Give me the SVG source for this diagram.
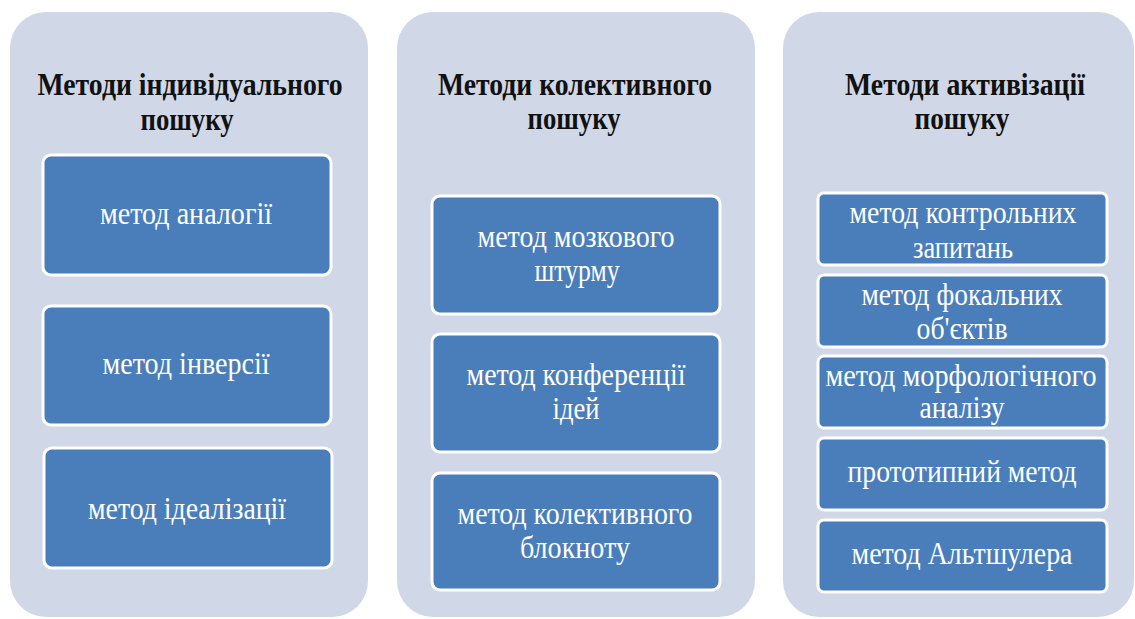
<svg xmlns="http://www.w3.org/2000/svg" width="1135" height="619" viewBox="0 0 1135 619">
<style>
.panel{fill:#D0D7E6;}
.box{fill:#4A7EBB;stroke:#FFFFFF;stroke-width:3;}
.title{font-family:"Liberation Serif",serif;font-weight:bold;font-size:32px;fill:#111;text-anchor:middle;}
.lbl{font-family:"Liberation Serif",serif;font-size:31px;fill:#FFFFFF;text-anchor:middle;}
</style>
<rect x="0" y="0" width="1135" height="619" fill="#FFFFFF"/>
<g id="col1">
<rect class="panel" x="10" y="12" width="358" height="605" rx="36"/>
<text class="title" x="190" y="95" textLength="305" lengthAdjust="spacingAndGlyphs">Методи індивідуального</text>
<text class="title" x="187" y="130" textLength="93" lengthAdjust="spacingAndGlyphs">пошуку</text>
</g>
<g id="col2">
<rect class="panel" x="397" y="12" width="358" height="605" rx="36"/>
<text class="title" x="575" y="95" textLength="274" lengthAdjust="spacingAndGlyphs">Методи колективного</text>
<text class="title" x="574" y="129" textLength="93" lengthAdjust="spacingAndGlyphs">пошуку</text>
</g>
<g id="col3">
<rect class="panel" x="783" y="12" width="351" height="605" rx="36"/>
<text class="title" x="965" y="95" textLength="240" lengthAdjust="spacingAndGlyphs">Методи активізації</text>
<text class="title" x="962" y="129" textLength="95" lengthAdjust="spacingAndGlyphs">пошуку</text>
</g>
<g id="n-analog">
<rect class="box" x="43" y="155" width="288" height="120" rx="8"/>
<text class="lbl" x="186" y="224" textLength="172" lengthAdjust="spacingAndGlyphs">метод аналогії</text>
</g>
<g id="n-inversion">
<rect class="box" x="43" y="306" width="288" height="119" rx="8"/>
<text class="lbl" x="186" y="374" textLength="167" lengthAdjust="spacingAndGlyphs">метод інверсії</text>
</g>
<g id="n-ideal">
<rect class="box" x="44" y="448" width="288" height="120" rx="8"/>
<text class="lbl" x="187" y="519" textLength="198" lengthAdjust="spacingAndGlyphs">метод ідеалізації</text>
</g>
<g id="n-brainstorm">
<rect class="box" x="432" y="196" width="288" height="118" rx="8"/>
<text class="lbl" x="576" y="247" textLength="197" lengthAdjust="spacingAndGlyphs">метод мозкового</text>
<text class="lbl" x="577" y="281" textLength="85" lengthAdjust="spacingAndGlyphs">штурму</text>
</g>
<g id="n-conference">
<rect class="box" x="432" y="334" width="288" height="118" rx="8"/>
<text class="lbl" x="576" y="385" textLength="219" lengthAdjust="spacingAndGlyphs">метод конференції</text>
<text class="lbl" x="576" y="419" textLength="47" lengthAdjust="spacingAndGlyphs">ідей</text>
</g>
<g id="n-notebook">
<rect class="box" x="432" y="473" width="288" height="117" rx="8"/>
<text class="lbl" x="575" y="524" textLength="235" lengthAdjust="spacingAndGlyphs">метод колективного</text>
<text class="lbl" x="575" y="558" textLength="110" lengthAdjust="spacingAndGlyphs">блокноту</text>
</g>
<g id="n-questions">
<rect class="box" x="818" y="193" width="289" height="72" rx="6"/>
<text class="lbl" x="963" y="223" textLength="227" lengthAdjust="spacingAndGlyphs">метод контрольних</text>
<text class="lbl" x="963" y="258" textLength="100" lengthAdjust="spacingAndGlyphs">запитань</text>
</g>
<g id="n-focal">
<rect class="box" x="818" y="275" width="289" height="72" rx="6"/>
<text class="lbl" x="962" y="305" textLength="201" lengthAdjust="spacingAndGlyphs">метод фокальних</text>
<text class="lbl" x="962" y="339" textLength="91" lengthAdjust="spacingAndGlyphs">об'єктів</text>
</g>
<g id="n-morph">
<rect class="box" x="818" y="356" width="289" height="72" rx="6"/>
<text class="lbl" x="961" y="386" textLength="271" lengthAdjust="spacingAndGlyphs">метод морфологічного</text>
<text class="lbl" x="962" y="418" textLength="85" lengthAdjust="spacingAndGlyphs">аналізу</text>
</g>
<g id="n-prototype">
<rect class="box" x="818" y="438" width="289" height="72" rx="6"/>
<text class="lbl" x="962" y="482" textLength="229" lengthAdjust="spacingAndGlyphs">прототипний метод</text>
</g>
<g id="n-altshuller">
<rect class="box" x="818" y="520" width="289" height="72" rx="6"/>
<text class="lbl" x="962" y="564" textLength="221" lengthAdjust="spacingAndGlyphs">метод Альтшулера</text>
</g>
<g id="connectors"></g>
</svg>
